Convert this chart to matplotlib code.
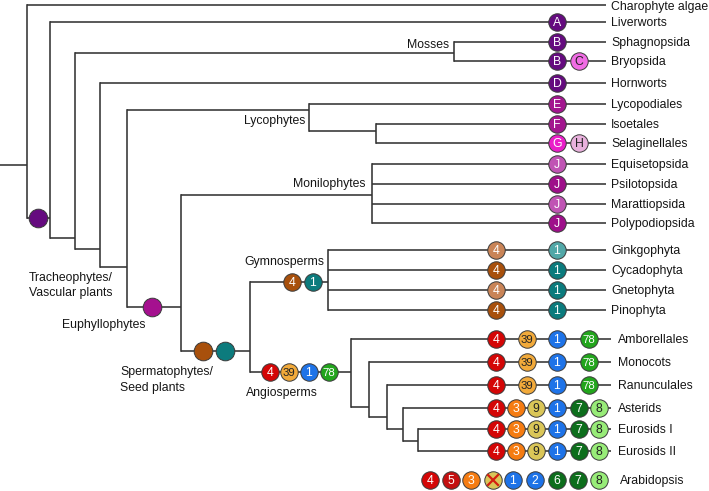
import matplotlib
matplotlib.use("Agg")
import matplotlib.pyplot as plt

plt.rcParams['font.family'] = ['Liberation Sans', 'DejaVu Sans']

# ---------------- data ----------------
tip_names = ["Charophyte algae", "Liverworts", "Sphagnopsida", "Bryopsida", "Hornworts",
             "Lycopodiales", "Isoetales", "Selaginellales",
             "Equisetopsida", "Psilotopsida", "Marattiopsida", "Polypodiopsida",
             "Ginkgophyta", "Cycadophyta", "Gnetophyta", "Pinophyta",
             "Amborellales", "Monocots", "Ranunculales", "Asterids", "Eurosids I", "Eurosids II"]

# colours of gene-copy circles
PUR = "#650b7f"; PINK = "#f06ce4"; MAG = "#a3168f"; GMAG = "#ea1ec9"; HPINK = "#e9b1dd"
JL = "#c054b4"; JD = "#9e0f8a"; EUPH = "#a5108f"
BR = "#a8500c"; BRL = "#c98457"; TE = "#0c7b7d"; TEL = "#52a8a8"
RED = "#d40606"; RED5 = "#c41010"; YEL = "#f2aa3a"; BLU = "#1e73e8"; GRN = "#22a51c"
ORG = "#f57c12"; KHA = "#dac658"; DGR = "#0d6e1c"; LGR = "#98ec78"

# markers per tip: (label, colour)
tip_marks = {
    "Liverworts": [("A", PUR)],
    "Sphagnopsida": [("B", PUR)],
    "Bryopsida": [("B", PUR), ("C", PINK)],
    "Hornworts": [("D", PUR)],
    "Lycopodiales": [("E", MAG)],
    "Isoetales": [("F", MAG)],
    "Selaginellales": [("G", GMAG), ("H", HPINK)],
    "Equisetopsida": [("J", JL)],
    "Psilotopsida": [("J", JD)],
    "Marattiopsida": [("J", JL)],
    "Polypodiopsida": [("J", JD)],
    "Ginkgophyta": [("4", BRL), ("1", TEL)],
    "Cycadophyta": [("4", BR), ("1", TE)],
    "Gnetophyta": [("4", BRL), ("1", TE)],
    "Pinophyta": [("4", BR), ("1", TE)],
    "Amborellales": [("4", RED), ("39", YEL), ("1", BLU), ("78", GRN)],
    "Monocots": [("4", RED), ("39", YEL), ("1", BLU), ("78", GRN)],
    "Ranunculales": [("4", RED), ("39", YEL), ("1", BLU), ("78", GRN)],
    "Asterids": [("4", RED), ("3", ORG), ("9", KHA), ("1", BLU), ("7", DGR), ("8", LGR)],
    "Eurosids I": [("4", RED), ("3", ORG), ("9", KHA), ("1", BLU), ("7", DGR), ("8", LGR)],
    "Eurosids II": [("4", RED), ("3", ORG), ("9", KHA), ("1", BLU), ("7", DGR), ("8", LGR)],
}
arab_labels = ["4", "5", "3", "9", "1", "2", "6", "7", "8"]
arab_colors = [RED, RED5, ORG, KHA, BLU, BLU, DGR, DGR, LGR]
arab_lost = [False, False, False, True, False, False, False, False, False]

dark_text = {YEL, KHA, LGR, PINK, HPINK}

# ---------------- layout (pixel space) ----------------
tip_y = [5, 22, 42, 61, 83, 104, 124, 143, 164, 184, 204, 223,
         250, 270, 290, 310, 339, 362, 385, 408, 429, 451]
tip_pos = dict(zip(tip_names, tip_y))
angio = set(tip_names[16:])

# internal nodes: name -> (x, y, children)
nodes = {
    "root": (27, 165, ["Charophyte algae", "land"]),
    "land": (50, 218, ["Liverworts", "n2"]),
    "n2": (75, 238, ["mosses", "n3"]),
    "mosses": (454, 53, ["Sphagnopsida", "Bryopsida"]),
    "n3": (100, 249, ["Hornworts", "tracheo"]),
    "tracheo": (127, 267, ["lyco", "euphyll"]),
    "lyco": (309, 110, ["Lycopodiales", "lyc2"]),
    "lyc2": (376, 131, ["Isoetales", "Selaginellales"]),
    "euphyll": (181, 307, ["monilo", "sperm"]),
    "monilo": (372, 195, ["Equisetopsida", "Psilotopsida", "Marattiopsida", "Polypodiopsida"]),
    "sperm": (250, 351, ["gymno", "angio"]),
    "gymno": (328, 282, ["Ginkgophyta", "Cycadophyta", "Gnetophyta", "Pinophyta"]),
    "angio": (351, 372, ["Amborellales", "a2"]),
    "a2": (369, 407, ["Monocots", "a3"]),
    "a3": (387, 417, ["Ranunculales", "a4"]),
    "a4": (403, 429, ["Asterids", "a5"]),
    "a5": (418, 441, ["Eurosids I", "Eurosids II"]),
}

def tip_end(name):
    return 611 if name in angio else 606

def node_xy(name):
    if name in nodes:
        return nodes[name][0], nodes[name][1]
    return tip_end(name), tip_pos[name]

LC = "#333333"
LW = 1.15

fig = plt.figure(figsize=(7.09, 4.91), dpi=100)
ax = fig.add_axes([0, 0, 1, 1])
ax.set_xlim(0, 709)
ax.set_ylim(491, 0)
ax.axis("off")

# root stem
ax.plot([0, nodes["root"][0]], [nodes["root"][1]] * 2, color=LC, lw=LW, solid_capstyle="butt", zorder=1)
for nm, (x, y, ch) in nodes.items():
    cys = [node_xy(c)[1] for c in ch]
    ax.plot([x, x], [min(cys), max(cys)], color=LC, lw=LW, solid_capstyle="projecting", zorder=1)
    for c in ch:
        cx, cy = node_xy(c)
        ax.plot([x, cx], [cy, cy], color=LC, lw=LW, solid_capstyle="butt", zorder=1)

S = 158  # marker area (pt^2)

def circle(x, y, col, label="", size=S):
    ax.scatter([x], [y], s=size, color=col, edgecolors="#3a3a3a", linewidths=0.7, zorder=3)
    if label:
        tc = "#222222" if col in dark_text else "white"
        fs = 8.2 if len(label) > 1 else 8.8
        ax.text(x, y + 0.6, label, ha="center", va="center", fontsize=fs, color=tc, zorder=4)

TXT = dict(fontsize=8.8, color="#151515")

# tip labels and markers
cols_by_len = {1: [557], 2: [557, 579]}
for nm in tip_names:
    y = tip_pos[nm]
    marks = tip_marks.get(nm, [])
    if nm in angio:
        xs = [496, 527, 557, 589] if len(marks) == 4 else [496, 516, 536, 557, 579, 599]
        lx = 618
    elif nm in ("Ginkgophyta", "Cycadophyta", "Gnetophyta", "Pinophyta"):
        xs = [496, 557]
        lx = 611
    else:
        xs = cols_by_len.get(len(marks), [])
        lx = 611
    for (lab, col), x in zip(marks, xs):
        circle(x, y, col, lab)
    if y < 10:
        ax.text(lx, 9.5, nm, ha="left", va="baseline", **TXT)
    else:
        ax.text(lx, y + 1, nm, ha="left", va="center", **TXT)

# Arabidopsis row
arab_x = [430, 451, 471, 493, 513, 535, 557, 578, 599]
for lab, col, lost, x in zip(arab_labels, arab_colors, arab_lost, arab_x):
    if lost:
        circle(x, 480, col, "")
        ax.plot([x - 5, x + 5], [475, 485], color="#d42010", lw=1.6, zorder=5)
        ax.plot([x - 5, x + 5], [485, 475], color="#d42010", lw=1.6, zorder=5)
    else:
        circle(x, 480, col, lab)
ax.text(620, 481, "Arabidopsis", ha="left", va="center", **TXT)

# node markers
circle(38, 218, PUR, size=180)
circle(152, 307, EUPH, size=180)
circle(203, 351, BR, size=180)
circle(225, 351, TE, size=180)
circle(292, 282, BR, "4")
circle(313, 282, TE, "1")
for x, (lab, col) in zip([270, 289, 309, 329], [("4", RED), ("39", YEL), ("1", BLU), ("78", GRN)]):
    circle(x, 372, col, lab)

# clade labels
ax.text(449, 45, "Mosses", ha="right", va="center", **TXT)
ax.text(305, 121, "Lycophytes", ha="right", va="center", **TXT)
ax.text(366, 184, "Monilophytes", ha="right", va="center", **TXT)
ax.text(324, 262, "Gymnosperms", ha="right", va="center", **TXT)
ax.text(282, 393, "Angiosperms", ha="center", va="center", **TXT)
ax.text(29, 278, "Tracheophytes/", ha="left", va="center", **TXT)
ax.text(29, 293, "Vascular plants", ha="left", va="center", **TXT)
ax.text(62, 325, "Euphyllophytes", ha="left", va="center", **TXT)
ax.text(120, 372, "Spermatophytes/", ha="left", va="center", **TXT)
ax.text(120, 388, "Seed plants", ha="left", va="center", **TXT)

fig.savefig("out.png", dpi=100)
